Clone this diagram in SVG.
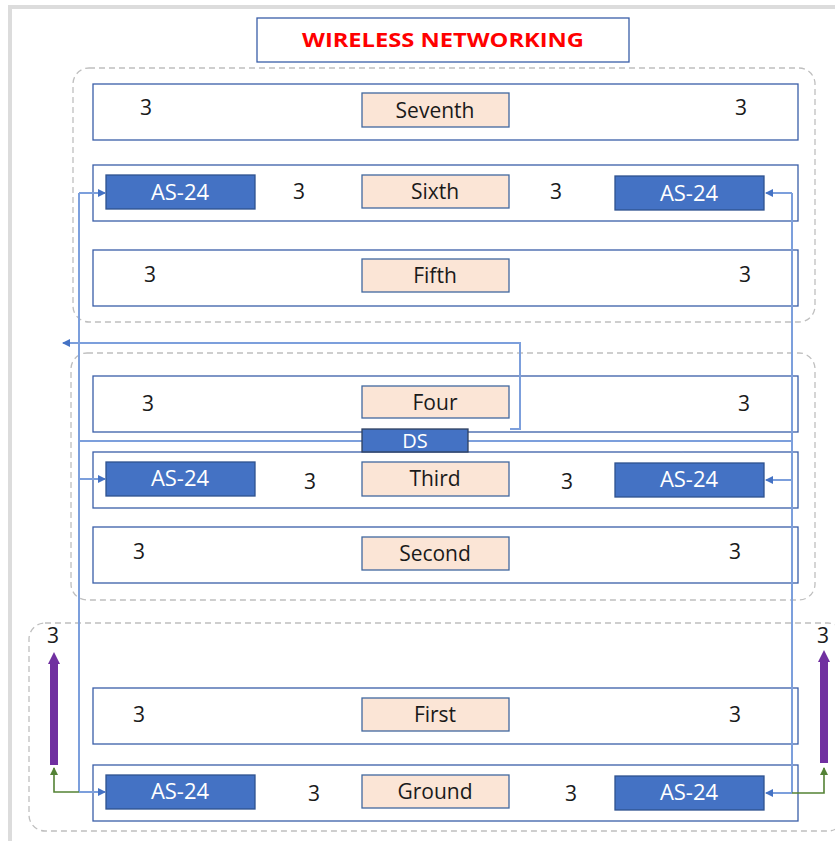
<svg xmlns="http://www.w3.org/2000/svg" width="835" height="841" viewBox="0 0 835 841">
<defs>
<style>
.frame{fill:#fff;stroke:#dcdcdc;stroke-width:4}
.grp{fill:none;stroke:#bfbfbf;stroke-width:1.3;stroke-dasharray:6 4}
.row{fill:#fff;stroke:#3a5ea8;stroke-width:1.3}
.lbl{fill:#fbe5d6;stroke:#41689f;stroke-width:1.3}
.as{fill:#4472c4;stroke:#2f528f;stroke-width:1.3}
.t{font-family:"Open Sans","Liberation Sans",sans-serif;font-size:21px;fill:#1a1a1a;text-anchor:middle}
.tw{font-family:"Open Sans","Liberation Sans",sans-serif;font-size:22px;fill:#fff;text-anchor:middle}
.c{fill:none;stroke:#7c9fdc;stroke-width:2}
.g{fill:none;stroke:#548235;stroke-width:1.6}
.p{fill:none;stroke:#7030a0;stroke-width:8}
</style>
<marker id="ab" markerWidth="8" markerHeight="8" refX="7" refY="4" orient="auto" markerUnits="userSpaceOnUse"><path d="M0,0 L8,4 L0,8 z" fill="#4472c4"/></marker>
<marker id="ag" markerWidth="8" markerHeight="8" refX="7" refY="4" orient="auto" markerUnits="userSpaceOnUse"><path d="M0,0 L8,4 L0,8 z" fill="#548235"/></marker>
<marker id="ap" markerWidth="16" markerHeight="12" refX="2" refY="6" orient="auto" markerUnits="userSpaceOnUse"><path d="M0,0 L12,6 L0,12 z" fill="#7030a0"/></marker>
</defs>
<rect class="frame" x="10" y="7" width="840" height="850"/>
<g id="title">
<rect x="257" y="18" width="372" height="44" fill="#fff" stroke="#3a5ea8" stroke-width="1.3"/>
<text x="443" y="47" font-family="'Open Sans','Liberation Sans',sans-serif" font-size="19" font-weight="bold" fill="#ff0000" text-anchor="middle" textLength="282" lengthAdjust="spacingAndGlyphs">WIRELESS NETWORKING</text>
</g>
<g id="groups">
<rect class="grp" x="73" y="68" width="742" height="254" rx="16"/>
<rect class="grp" x="71" y="353" width="744" height="247" rx="16"/>
<rect class="grp" x="29" y="623" width="815" height="208" rx="16"/>
</g>
<g id="seventh">
<rect class="row" x="93" y="84" width="705" height="56"/>
<rect class="lbl" x="362" y="93" width="147" height="34"/>
<text class="t" x="435" y="118">Seventh</text>
<text class="t" x="146" y="115">3</text>
<text class="t" x="741" y="115">3</text>
</g>
<g id="sixth">
<rect class="row" x="93" y="165" width="705" height="56"/>
<rect class="as" x="106" y="175" width="149" height="34"/>
<text class="tw" x="180" y="200">AS-24</text>
<text class="t" x="299" y="199">3</text>
<rect class="lbl" x="362" y="175" width="147" height="33"/>
<text class="t" x="435" y="199">Sixth</text>
<text class="t" x="556" y="199">3</text>
<rect class="as" x="615" y="176" width="149" height="34"/>
<text class="tw" x="689" y="201">AS-24</text>
</g>
<g id="fifth">
<rect class="row" x="93" y="250" width="705" height="56"/>
<rect class="lbl" x="362" y="259" width="147" height="33"/>
<text class="t" x="435" y="283">Fifth</text>
<text class="t" x="150" y="282">3</text>
<text class="t" x="745" y="282">3</text>
</g>
<g id="four">
<rect class="row" x="93" y="376" width="705" height="56"/>
<rect class="lbl" x="362" y="386" width="147" height="32"/>
<text class="t" x="435" y="410">Four</text>
<text class="t" x="148" y="411">3</text>
<text class="t" x="744" y="411">3</text>
</g>
<g id="third">
<rect class="row" x="93" y="452" width="705" height="56"/>
<rect class="as" x="106" y="462" width="149" height="34"/>
<text class="tw" x="180" y="486">AS-24</text>
<text class="t" x="310" y="489">3</text>
<rect class="lbl" x="362" y="462" width="147" height="34"/>
<text class="t" x="435" y="486">Third</text>
<text class="t" x="567" y="489">3</text>
<rect class="as" x="615" y="463" width="149" height="34"/>
<text class="tw" x="689" y="487">AS-24</text>
</g>
<g id="second">
<rect class="row" x="93" y="527" width="705" height="56"/>
<rect class="lbl" x="362" y="537" width="147" height="33"/>
<text class="t" x="435" y="561">Second</text>
<text class="t" x="139" y="559">3</text>
<text class="t" x="735" y="559">3</text>
</g>
<g id="first">
<rect class="row" x="93" y="688" width="705" height="56"/>
<rect class="lbl" x="362" y="698" width="147" height="33"/>
<text class="t" x="435" y="722">First</text>
<text class="t" x="139" y="722">3</text>
<text class="t" x="735" y="722">3</text>
</g>
<g id="ground">
<rect class="row" x="93" y="765" width="705" height="56"/>
<rect class="as" x="106" y="775" width="149" height="34"/>
<text class="tw" x="180" y="799">AS-24</text>
<text class="t" x="314" y="801">3</text>
<rect class="lbl" x="362" y="775" width="147" height="33"/>
<text class="t" x="435" y="799">Ground</text>
<text class="t" x="571" y="801">3</text>
<rect class="as" x="615" y="776" width="149" height="34"/>
<text class="tw" x="689" y="800">AS-24</text>
</g>
<g id="connectors">
<path class="c" d="M79,193 V792"/>
<path class="c" d="M792,193 V793"/>
<path class="c" d="M79,441 H792"/>
<path class="c" d="M79,193 H105" marker-end="url(#ab)"/>
<path class="c" d="M79,479 H105" marker-end="url(#ab)"/>
<path class="c" d="M79,792 H105" marker-end="url(#ab)"/>
<path class="c" d="M792,193 H766" marker-end="url(#ab)"/>
<path class="c" d="M792,480 H766" marker-end="url(#ab)"/>
<path class="c" d="M792,793 H766" marker-end="url(#ab)"/>
<path class="c" d="M510,429 H520 V343 H63" marker-end="url(#ab)"/>
<path class="g" d="M79,792 H54 V768" marker-end="url(#ag)"/>
<path class="g" d="M792,793 H824 V768" marker-end="url(#ag)"/>
<path class="p" d="M54,765 V662" marker-end="url(#ap)"/>
<path class="p" d="M824,763 V660" marker-end="url(#ap)"/>
</g>
<g id="ds">
<rect x="362" y="429" width="106" height="23" fill="#4472c4" stroke="#2f3f5f" stroke-width="1.3"/>
<text x="415" y="448" font-family="'Open Sans','Liberation Sans',sans-serif" font-size="20" fill="#fff" text-anchor="middle">DS</text>
</g>
<g id="side-labels">
<text class="t" x="53" y="643">3</text>
<text class="t" x="823" y="643">3</text>
</g>
</svg>
